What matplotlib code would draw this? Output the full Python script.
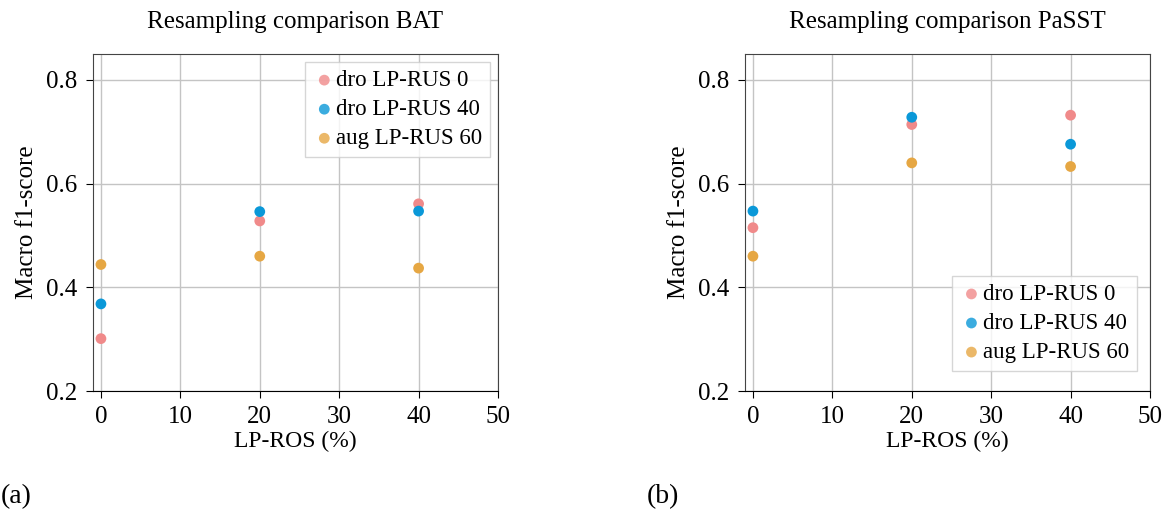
import numpy as np
import matplotlib
matplotlib.use('Agg')
import matplotlib.pyplot as plt

plt.rcParams['font.family'] = ['Liberation Serif', 'DejaVu Serif']

ros = [0, 20, 40]
labels = ['dro LP-RUS 0', 'dro LP-RUS 40', 'aug LP-RUS 60']
colors = ['#f08a8a', '#0a98d8', '#e6a743']

# macro f1 per series, BAT
bat_dro0 = [0.301, 0.528, 0.561]
bat_dro40 = [0.368, 0.546, 0.547]
bat_aug60 = [0.444, 0.460, 0.437]

# macro f1 per series, PaSST
passt_dro0 = [0.515, 0.714, 0.732]
passt_dro40 = [0.547, 0.728, 0.676]
passt_aug60 = [0.460, 0.640, 0.633]

W, H = 1168, 513
fig = plt.figure(figsize=(W / 100, H / 100), dpi=100)


def panel(ax, series, title, loc, anchor):
    for vals, lab, c in zip(series, labels, colors):
        ax.scatter(ros, vals, s=60, color=c, label=lab, zorder=3,
                   edgecolors='none')
    ax.set_xlim(-1, 50)
    ax.set_ylim(0.2, 0.85)
    ax.set_xticks([0, 10, 20, 30, 40, 50])
    ax.set_yticks([0.2, 0.4, 0.6, 0.8])
    ax.grid(True, color='#c4c4c4', linewidth=1.0)
    ax.set_axisbelow(True)
    ax.tick_params(direction='out', length=5, pad=6, labelsize=18,
                   color='black')
    for s in ['left', 'top', 'right']:
        ax.spines[s].set_color('#444444')
    ax.spines['bottom'].set_color('black')
    ax.set_title(title, fontsize=18, pad=19)
    ax.set_xlabel('LP-ROS (%)', fontsize=17, labelpad=2)
    ax.set_ylabel('Macro f1-score', fontsize=18, labelpad=6)
    leg = ax.legend(loc=loc, bbox_to_anchor=anchor, fontsize=16.5,
                    handletextpad=0.0, handlelength=1.0, borderpad=0.35,
                    labelspacing=0.35, fancybox=False, framealpha=0.8,
                    edgecolor='#cccccc', borderaxespad=0)
    for h in leg.legend_handles:
        h.set_alpha(0.8)
    return ax


ax1 = fig.add_axes([93 / W, 122 / H, 405 / W, 337 / H])
panel(ax1, [bat_dro0, bat_dro40, bat_aug60],
      'Resampling comparison BAT', 'upper right', (0.980, 0.976))

ax2 = fig.add_axes([745 / W, 122 / H, 405 / W, 337 / H])
panel(ax2, [passt_dro0, passt_dro40, passt_aug60],
      'Resampling comparison PaSST', 'lower right', (0.968, 0.059))

fig.text(1 / W, 1 - 497 / H, '(a)', fontsize=20, va='center', ha='left')
fig.text(647 / W, 1 - 497 / H, '(b)', fontsize=20, va='center', ha='left')

fig.savefig('out.png', dpi=100)
